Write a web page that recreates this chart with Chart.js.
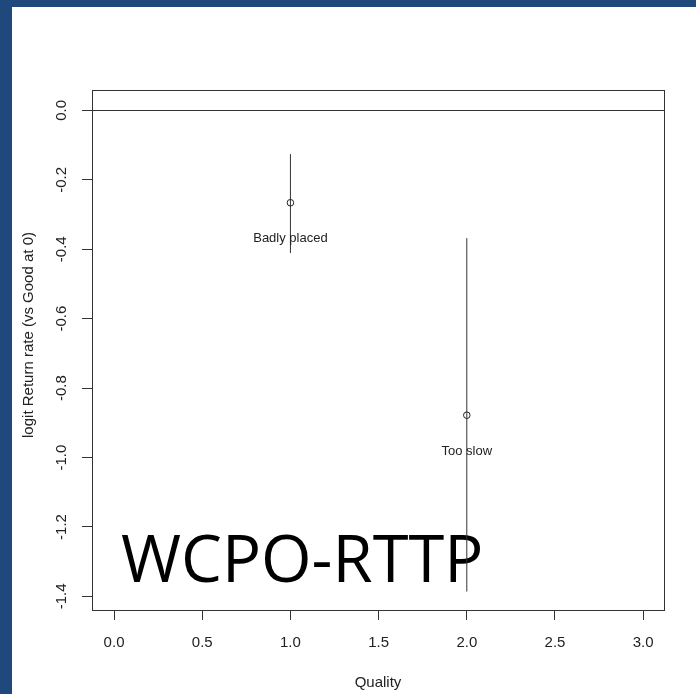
<!DOCTYPE html>
<html><head><meta charset="utf-8">
<script src="https://cdn.jsdelivr.net/npm/chart.js@4.4.1/dist/chart.umd.min.js"></script>
<style>
html,body{margin:0;padding:0;background:#fff;}
#wrap{position:relative;width:696px;height:694px;overflow:hidden;background:#fff;}
.band-top{position:absolute;left:0;top:0;width:696px;height:7px;background:#1F497D;}
.band-left{position:absolute;left:0;top:0;width:12px;height:694px;background:#1F497D;}
canvas{position:absolute;left:0;top:0;}
</style></head><body>
<div id="wrap"><div class="band-top"></div><div class="band-left"></div><canvas id="c" width="696" height="694"></canvas></div>
<script>
// ---- data ----
const categories = ['Badly placed', 'Too slow'];
const xPositions = [1, 2];
const estimates = [-0.266, -0.878];
const lowerCI = [-0.411, -1.386];
const upperCI = [-0.126, -0.368];
const xTicks = [0.0, 0.5, 1.0, 1.5, 2.0, 2.5, 3.0];
const yTicks = [0.0, -0.2, -0.4, -0.6, -0.8, -1.0, -1.2, -1.4];
const referenceLine = 0;
const xTitle = 'Quality';
const yTitle = 'logit Return rate (vs Good at 0)';
const watermark = 'WCPO-RTTP';

const axisFont = '"Liberation Sans", Arial, sans-serif';
const textFont = '"Liberation Sans", Arial, sans-serif';
const ink = '#222';
const lineInk = '#333';

const datasets = [];
xPositions.forEach((x, i) => {
  datasets.push({
    type: 'line',
    label: categories[i] + ' CI',
    data: [{x: x, y: lowerCI[i]}, {x: x, y: upperCI[i]}],
    borderColor: lineInk, borderWidth: 1, pointRadius: 0, fill: false, order: 2
  });
});
datasets.push({
  type: 'scatter',
  label: 'estimate',
  data: xPositions.map((x, i) => ({x: x, y: estimates[i]})),
  pointStyle: 'circle', pointRadius: 3.3, borderWidth: 1,
  borderColor: ink, backgroundColor: 'rgba(255,255,255,0)', order: 0
});

const rPlot = {
  id: 'rPlot',
  beforeDatasetsDraw(chart) {
    const {ctx, chartArea: a, scales: {x, y}} = chart;
    ctx.save();
    // watermark
    ctx.fillStyle = '#000';
    ctx.font = '65px "Open Sans", "Noto Sans", sans-serif';
    ctx.textAlign = 'left';
    ctx.textBaseline = 'alphabetic';
    ctx.fillText(watermark, 121, 582);
    // reference line
    const yp = Math.round(y.getPixelForValue(referenceLine)) + 0.5;
    ctx.strokeStyle = lineInk; ctx.lineWidth = 1;
    ctx.beginPath(); ctx.moveTo(a.left, yp); ctx.lineTo(a.right, yp); ctx.stroke();
    ctx.restore();
  },
  afterDraw(chart) {
    const {ctx, chartArea: a, scales: {x, y}} = chart;
    ctx.save();
    // box
    ctx.strokeStyle = lineInk; ctx.lineWidth = 1;
    ctx.strokeRect(a.left + 0.5, a.top + 0.5, a.right - a.left, a.bottom - a.top);
    // rotated y tick labels
    ctx.fillStyle = ink;
    ctx.font = '15px ' + axisFont;
    ctx.textAlign = 'center';
    ctx.textBaseline = 'middle';
    y.ticks.forEach(t => {
      const py = y.getPixelForValue(t.value);
      ctx.save();
      ctx.translate(62, py);
      ctx.rotate(-Math.PI / 2);
      ctx.fillText(t.value.toFixed(1), 0, 0);
      ctx.restore();
    });
    // y title
    ctx.save();
    ctx.translate(29, 335);
    ctx.rotate(-Math.PI / 2);
    ctx.fillText(yTitle, 0, 0);
    ctx.restore();
    // annotations
    ctx.font = '13px ' + textFont;
    categories.forEach((c, i) => {
      const px = x.getPixelForValue(xPositions[i]);
      const py = y.getPixelForValue(estimates[i]) + 36;
      ctx.fillText(c, px, py);
    });
    ctx.restore();
  }
};

new Chart(document.getElementById('c'), {
  data: {datasets},
  options: {
    responsive: false, animation: false, devicePixelRatio: 1,
    layout: {padding: {top: 90, right: 32, left: 0, bottom: 0}},
    plugins: {legend: {display: false}, tooltip: {enabled: false}},
    scales: {
      x: {
        type: 'linear', position: 'bottom', min: -0.125, max: 3.118,
        afterBuildTicks: s => { s.ticks = xTicks.map(v => ({value: v})); },
        afterFit: s => { s.height = 84; },
        ticks: {color: ink, font: {family: axisFont, size: 15}, padding: 14,
                callback: v => Number(v).toFixed(1), maxRotation: 0, autoSkip: false},
        grid: {display: true, drawOnChartArea: false, drawTicks: true, tickLength: 10, color: lineInk},
        border: {display: true, color: lineInk},
        title: {display: true, text: xTitle, color: ink, font: {family: axisFont, size: 15}, padding: {top: 0, bottom: 2}}
      },
      y: {
        type: 'linear', position: 'left', min: -1.4392, max: 0.0588,
        afterBuildTicks: s => { s.ticks = yTicks.map(v => ({value: v})); },
        afterFit: s => { s.width = 92; },
        ticks: {display: false, autoSkip: false},
        grid: {display: true, drawOnChartArea: false, drawTicks: true, tickLength: 10, color: lineInk},
        border: {display: true, color: lineInk},
        title: {display: false}
      }
    }
  },
  plugins: [rPlot]
});
</script>
</body></html>
